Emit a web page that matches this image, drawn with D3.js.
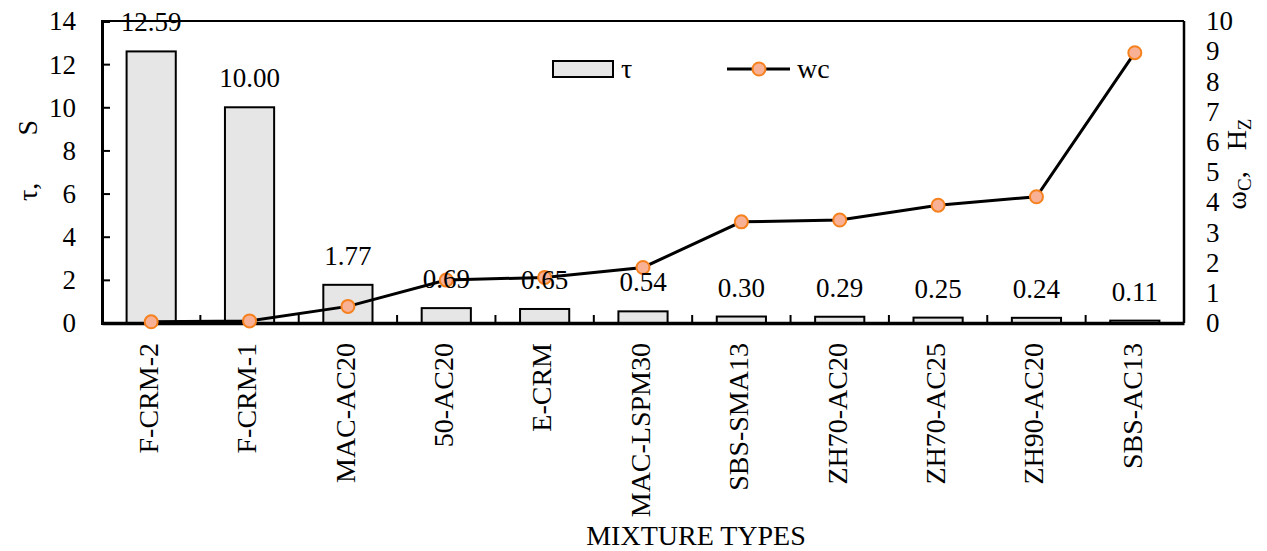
<!DOCTYPE html>
<html><head><meta charset="utf-8">
<script src="https://cdn.jsdelivr.net/npm/d3@7"></script>
<style>body{margin:0;background:#fff}svg{display:block}text{font-family:"Liberation Serif","Times New Roman",serif;fill:#000}</style>
</head><body><svg id="c" width="1267" height="551"></svg>
<script>
const categories = ["F-CRM-2","F-CRM-1","MAC-AC20","50-AC20","E-CRM","MAC-LSPM30","SBS-SMA13","ZH70-AC20","ZH70-AC25","ZH90-AC20","SBS-AC13"];
const tauValues = [12.59,10.00,1.77,0.69,0.65,0.54,0.30,0.29,0.25,0.24,0.11];
const tauLabels = ["12.59","10.00","1.77","0.69","0.65","0.54","0.30","0.29","0.25","0.24","0.11"];
const wcValues = [0.04,0.07,0.55,1.42,1.51,1.84,3.35,3.41,3.90,4.18,8.95];
const leftTicks = [0,2,4,6,8,10,12,14];
const rightTicks = [0,1,2,3,4,5,6,7,8,9,10];

const svg = d3.select("#c");
const L=102,R=1184,T=21,B=323, FS=27, FC=28;
const x = d3.scaleBand().domain(categories).range([L,R]).paddingInner(0.5).paddingOuter(0.25);
const xb = d3.scaleBand().domain(categories).range([L,R]);
const yL = d3.scaleLinear().domain([0,14]).range([B,T]);
const yR = d3.scaleLinear().domain([0,10]).range([B,T]);

// bars
svg.append("g").selectAll("rect").data(categories).join("rect")
  .attr("x",d=>x(d)).attr("width",x.bandwidth())
  .attr("y",(d,i)=>yL(tauValues[i])).attr("height",(d,i)=>B-yL(tauValues[i]))
  .attr("fill","#e6e6e6").attr("stroke","#000").attr("stroke-width",2);

// axes frame
svg.append("line").attr("x1",L).attr("x2",R).attr("y1",T).attr("y2",T).attr("stroke","#000").attr("stroke-width",2);
svg.append("line").attr("x1",R).attr("x2",R).attr("y1",T).attr("y2",B).attr("stroke","#000").attr("stroke-width",2.5);

// left axis
const gl = svg.append("g").attr("transform",`translate(${L},0)`)
  .call(d3.axisRight(yL).tickValues(leftTicks).tickSize(8).tickFormat(""));
gl.select(".domain").attr("stroke-width",3);
gl.selectAll(".tick line").attr("stroke-width",2);
svg.append("g").selectAll("text").data(leftTicks).join("text")
  .attr("x",76).attr("y",d=>yL(d)).attr("dy","0.35em").attr("text-anchor","end")
  .style("font-size",FS+"px").text(d=>d);

// right axis labels
const gr = svg.append("g").attr("transform",`translate(${R},0)`)
  .call(d3.axisRight(yR).tickValues(rightTicks).tickSize(0).tickPadding(22).tickFormat(d=>d));
gr.select(".domain").remove();
gr.selectAll(".tick text").style("font-size",FS+"px").attr("font-family",null).attr("fill","#000");

// bottom axis
const gb = svg.append("g").attr("transform",`translate(0,${B})`)
  .call(d3.axisBottom(xb).tickSize(0).tickFormat(""));
gb.select(".domain").attr("stroke-width",3.5);
svg.append("g").selectAll("line").data(categories.slice(1)).join("line")
  .attr("x1",d=>xb(d)).attr("x2",d=>xb(d)).attr("y1",B).attr("y2",B-8)
  .attr("stroke","#000").attr("stroke-width",2);

// category labels
svg.append("g").selectAll("text").data(categories).join("text")
  .attr("transform",d=>`translate(${xb(d)+xb.bandwidth()/2-3},343) rotate(-90)`)
  .attr("text-anchor","end").attr("dy","0.35em").style("font-size",FC+"px").text(d=>d);

// line
const line = d3.line().x((d,i)=>xb(categories[i])+xb.bandwidth()/2).y(d=>yR(d));
svg.append("path").datum(wcValues).attr("d",line).attr("fill","none").attr("stroke","#000").attr("stroke-width",3);
svg.append("g").selectAll("circle").data(wcValues).join("circle")
  .attr("cx",(d,i)=>xb(categories[i])+xb.bandwidth()/2).attr("cy",d=>yR(d)).attr("r",6.5)
  .attr("fill","#f9b195").attr("stroke","#f5821f").attr("stroke-width",2);

// bar labels
svg.append("g").selectAll("text").data(categories).join("text")
  .attr("x",d=>x(d)+x.bandwidth()/2).attr("y",(d,i)=>yL(tauValues[i])-20)
  .attr("text-anchor","middle").style("font-size",FS+"px").text((d,i)=>tauLabels[i]);

// legend
svg.append("rect").attr("x",553).attr("y",61).attr("width",60).attr("height",16).attr("fill","#e6e6e6").attr("stroke","#000").attr("stroke-width",2);
svg.append("text").attr("x",621).attr("y",78).style("font-size",FC+"px").text("τ");
svg.append("line").attr("x1",727).attr("x2",790).attr("y1",69).attr("y2",69).attr("stroke","#000").attr("stroke-width",3);
svg.append("circle").attr("cx",759).attr("cy",69).attr("r",6.5).attr("fill","#f9b195").attr("stroke","#f5821f").attr("stroke-width",2);
svg.append("text").attr("x",797).attr("y",78).style("font-size",FC+"px").text("wc");

// axis titles
svg.append("text").attr("transform","translate(37,201) rotate(-90)").attr("text-anchor","start").style("font-size",FC+"px").text("τ,");
svg.append("text").attr("transform","translate(37,120) rotate(-90)").attr("text-anchor","end").style("font-size",FC+"px").text("S");
const rt = svg.append("text").attr("transform","translate(1246,164) rotate(-90)").attr("text-anchor","middle").style("font-size",FC+"px");
rt.append("tspan").text("ω");
rt.append("tspan").attr("dy",5).style("font-size","19px").text("C");
rt.append("tspan").attr("dy",-5).text(",\u00a0\u00a0\u00a0H");
rt.append("tspan").attr("dy",5).style("font-size","19px").text("Z");
svg.append("text").attr("x",696).attr("y",545).attr("text-anchor","middle").style("font-size",FC+"px").text("MIXTURE TYPES");
</script></body></html>
